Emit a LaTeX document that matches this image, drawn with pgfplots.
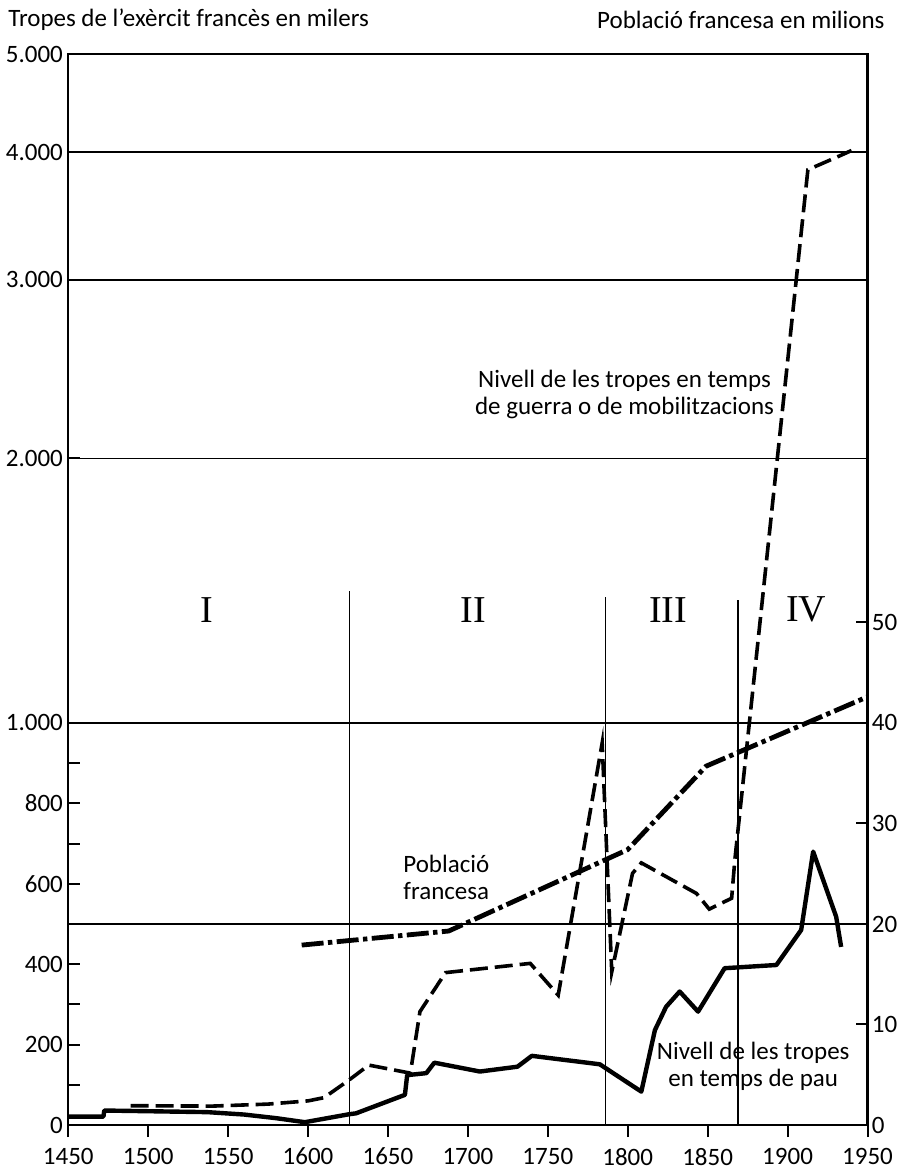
\documentclass[border=0pt]{standalone}
\usepackage{pgfplots}
\pgfplotsset{compat=1.18}
\usepackage{fontspec}
\setmainfont{Carlito}
\newfontfamily\romfont{Liberation Serif}

\begin{document}
\begin{tikzpicture}
\path[use as bounding box] (-34.15pt,-24pt) rectangle (417.85pt,562.5pt);
\begin{axis}[
  scale only axis, width=399.6pt, height=535.5pt,
  xmin=1450, xmax=1950, ymin=0, ymax=5000,
  y coord trafo/.code={\pgfmathparse{(#1<1000.01)?(#1):((#1<2000.01)?(1000+(#1-1000)*0.658):((#1<3000.01)?(1658+(#1-2000)*0.444):((#1<4000.01)?(2102+(#1-3000)*0.318):(2420+(#1-4000)*0.244))))}},
  axis line style={line width=1.2pt},
  xtick={1450,1500,1550,1600,1650,1700,1750,1800,1850,1900,1950},
  xticklabels={1450,1500,1550,1600,1650,1700,1750,1800,1850,1900,1950},
  ytick={0,200,400,600,800,1000,2000,3000,4000,5000},
  yticklabels={0,200,400,600,800,1.000,2.000,3.000,4.000,5.000},
  minor ytick={100,300,500,700,900},
  xtick pos=bottom, ytick pos=left,
  tick align=inside,
  major tick length=6pt, minor tick length=6pt,
  tick style={black, line width=1pt},
  xtick style={yshift=-6pt},
  xticklabel style={font=\fontsize{12.5}{14}\selectfont, yshift=-8pt},
  yticklabel style={font=\fontsize{12.5}{14}\selectfont, inner sep=2.5pt},
]
% grid lines
\addplot[black, line width=0.8pt] coordinates {(1450,500) (1950,500)};
\addplot[black, line width=0.8pt] coordinates {(1450,1000) (1950,1000)};
\addplot[black, line width=0.8pt] coordinates {(1450,2000) (1950,2000)};
\addplot[black, line width=0.8pt] coordinates {(1450,3000) (1950,3000)};
\addplot[black, line width=0.8pt] coordinates {(1450,4000) (1950,4000)};
% period boundaries
\addplot[black, line width=0.8pt] coordinates {(1626,0) (1626,1500)};
\addplot[black, line width=0.8pt] coordinates {(1786,0) (1786,1475)};
\addplot[black, line width=0.8pt] coordinates {(1869,0) (1869,1465)};
% peace-time troops
\addplot[black, line width=2.2pt, line join=round] coordinates {
(1450,21) (1472,21) (1472.5,36) (1537,32) (1560,26) (1580,17) (1598,7)
(1626,27) (1630,29) (1660.6,75) (1662,124) (1674,129) (1679,155)
(1707.5,133) (1731,145) (1740,172) (1782.5,151) (1808.5,83) (1817,236)
(1824,294) (1832.5,332) (1844,282) (1860.6,390) (1893,398) (1908.5,485)
(1916,680) (1930.4,518) (1933.5,443)};
% war-time troops
\addplot[black, line width=1.8pt, dash pattern=on 9pt off 3.5pt] coordinates {
(1489,48) (1540,47) (1575,52) (1600,60) (1610,68) (1625,110) (1638,149)
(1664,129) (1670,282) (1686,379) (1739,402) (1756.5,323) (1784,950)
(1790,381) (1803,626) (1808.5,652) (1843,576) (1851,537) (1865,564)
(1867,659) (1912.7,3862) (1932.5,3970) (1940,4016)};
% labels
\node[font=\fontsize{12.5}{13.5}\selectfont, align=center] at (rel axis cs:0.696,0.6825) {Nivell de les tropes en temps\\de guerra o de mobilitzacions};
\node[font=\fontsize{12.5}{13.5}\selectfont, align=center] at (rel axis cs:0.473,0.2316) {Població\\francesa};
\node[font=\fontsize{12.5}{13.5}\selectfont, align=center] at (rel axis cs:0.857,0.0551) {Nivell de les tropes\\en temps de pau};
\node[font=\romfont\fontsize{19}{19}\selectfont] at (rel axis cs:0.1737,0.481) {I};
\node[font=\romfont\fontsize{19}{19}\selectfont] at (rel axis cs:0.5066,0.481) {II};
\node[font=\romfont\fontsize{19}{19}\selectfont] at (rel axis cs:0.7507,0.481) {III};
\node[font=\romfont\fontsize{19}{19}\selectfont] at (rel axis cs:0.9233,0.481) {IV};
\end{axis}
\begin{axis}[
  scale only axis, width=399.6pt, height=535.5pt,
  xmin=1450, xmax=1950, ymin=0, ymax=106.56,
  axis y line*=right, axis x line=none,
  axis line style={line width=1.2pt},
  ytick={0,10,20,30,40,50}, yticklabels={0,10,20,30,40,50},
  tick align=inside, major tick length=6pt,
  tick style={black, line width=1pt},
  yticklabel style={font=\fontsize{12.5}{14}\selectfont, inner sep=2pt},
]
\addplot[black, line width=2.4pt, dash pattern=on 11pt off 2.2pt on 2.2pt off 2.2pt] coordinates {
(1596,17.9) (1688,19.3) (1800,27.4) (1849,35.7) (1950,42.6)};
\end{axis}
\node[font=\fontsize{12.5}{14}\selectfont, anchor=base west, inner sep=0pt] at (-30.15pt,549pt) {Tropes de l’exèrcit francès en milers};
\node[font=\fontsize{12.5}{14}\selectfont, anchor=base east, inner sep=0pt] at (408.35pt,548.35pt) {Població francesa en milions};
\end{tikzpicture}
\end{document}
